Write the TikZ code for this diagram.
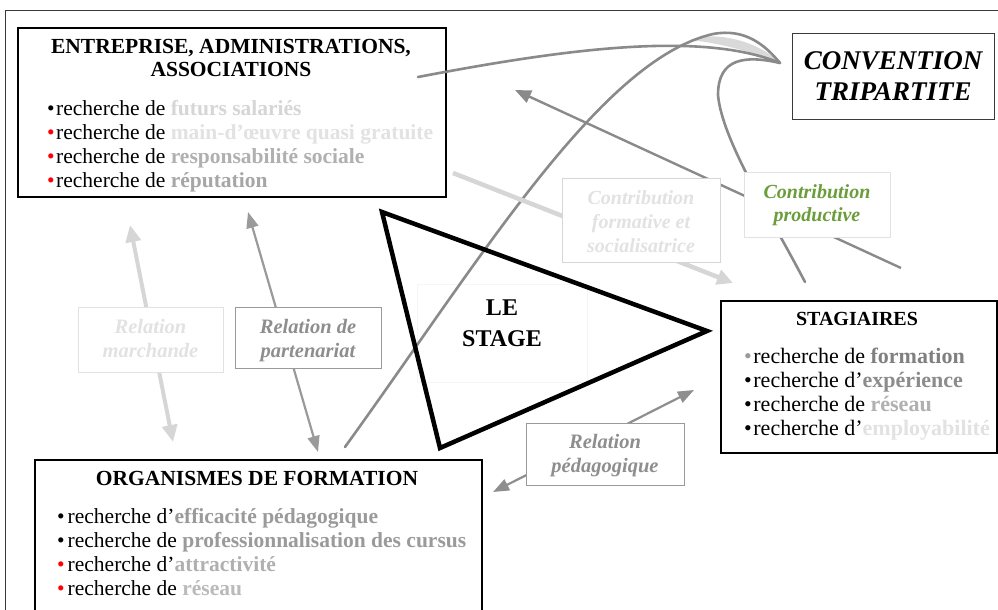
\documentclass[tikz,border=0pt]{standalone}
\usepackage{fontspec}
\setmainfont{Liberation Serif}
\usetikzlibrary{arrows.meta}
\definecolor{frameC}{HTML}{3A3A3A}
\definecolor{curveC}{HTML}{8A8A8A}
\definecolor{pale}{HTML}{D6D6D6}
\definecolor{paler}{HTML}{E2E2E2}
\definecolor{midg}{HTML}{9A9A9A}
\definecolor{lightg}{HTML}{B0B0B0}
\definecolor{greenC}{HTML}{6B9D3B}
\definecolor{relG}{HTML}{8E8E8E}
\newcommand{\bul}[1][black]{{\color{#1}•}\hspace{1.5pt}}
\begin{document}
\begin{tikzpicture}[x=1pt,y=-1pt]
\tikzset{
  bigbox/.style={draw=black, line width=1.6pt, fill=white, anchor=north west, inner sep=0pt},
  lblbox/.style={draw=#1, line width=1pt, fill=white, anchor=north west, inner sep=0pt},
  txt/.style={inner sep=0pt, anchor=base},
  itm/.style={inner sep=0pt, anchor=base west, font=\fontsize{21.5}{24}\selectfont},
  itmS/.style={inner sep=0pt, anchor=base west, font=\fontsize{22}{24}\selectfont},
  ttl/.style={txt, font=\bfseries\fontsize{21.5}{24}\selectfont},
  lbl/.style={txt, font=\bfseries\itshape\fontsize{20.5}{24}\selectfont},
  curve/.style={draw=curveC, line width=2.6pt, line cap=round},
  arrA/.style={draw=pale, line width=4pt, {Triangle[length=17pt,width=15pt]}-{Triangle[length=17pt,width=15pt]}},
  arrB/.style={draw=#1, line width=2.2pt, {Triangle[length=16pt,width=12pt]}-{Triangle[length=16pt,width=12pt]}},
  arrE/.style={draw=curveC, line width=2.4pt, {Triangle[length=16pt,width=13pt]}-},
  arrD/.style={draw=pale, line width=4.5pt, -{Triangle[length=16pt,width=15pt]}},
}
\useasboundingbox (0,0) rectangle (998,610);
\clip (0,0) rectangle (998,610);

% outer frame (only top and left visible)
\draw[frameC, line width=1.3pt] (5.5,640) -- (5.5,10.5) -- (1020,10.5);

% main boxes
\node[bigbox, minimum width=428pt, minimum height=169pt] (ent) at (17,27) {};
\node[bigbox, line width=1.3pt, draw=frameC, minimum width=202pt, minimum height=86pt] (conv) at (792,33) {};
\node[bigbox, minimum width=276pt, minimum height=152pt] (stag) at (720,300) {};
\node[bigbox, minimum width=447pt, minimum height=200pt] (org) at (34,459) {};

% faint box of "LE STAGE"
\node[draw=black!4, line width=0.8pt, anchor=north west, inner sep=0pt, minimum width=170pt, minimum height=98pt] (stagebox) at (417,284) {};

% free ends of the connectors
\coordinate (aTop) at (130,225);
\coordinate (aBot) at (173,442);
\coordinate (bTop) at (248,212);
\coordinate (bBot) at (318,452);
\coordinate (cL) at (493,492);
\coordinate (cR) at (694,390);
\coordinate (dS) at (453,173);
\coordinate (dE) at (733,283);
\coordinate (eS) at (901,268);
\coordinate (eE) at (515,90);
\coordinate (tip) at (780,63);
\coordinate (f1S) at (418,77);
\coordinate (f2S) at (345,447);
\coordinate (f3E) at (805,282);

% beak fill
\fill[black!15] (690,40) .. controls (716,30) and (760,42) .. (tip) .. controls (752,52) and (720,43) .. (690,40) -- cycle;

% curves of the convention
\draw[curve] (f1S) .. controls (560,50) and (700,30) .. (tip);
\draw[curve] (f2S) .. controls (480,260) and (600,60) .. (713,34) .. controls (745,28) and (765,45) .. (tip);
\draw[curve] (tip) .. controls (745,55) and (718,58) .. (718,95) .. controls (722,140) and (770,215) .. (f3E);

% arrows
\draw[arrA] (aTop) -- (aBot);
\draw[arrB=midg] (bTop) -- (bBot);
\draw[arrB=relG] (cL) -- (cR);
\draw[arrD] (dS) -- (dE);
\draw[arrE] (eE) -- (eS);

% label boxes
\node[lblbox=paler, minimum width=145pt, minimum height=65pt] (relM) at (78,307) {};
\node[lblbox=midg, minimum width=146pt, minimum height=61pt] (relP) at (235,307) {};
\node[lblbox=midg, minimum width=158pt, minimum height=62pt] (relPed) at (526,423) {};
\node[lblbox=pale, minimum width=158pt, minimum height=84pt] (contF) at (562,178) {};
\node[lblbox=paler, minimum width=146pt, minimum height=65pt] (contP) at (744,172) {};

% triangle
\coordinate (t1) at (382,212);
\coordinate (t2) at (707,331);
\coordinate (t3) at (440,448);
\draw[black, line width=4.5pt, line join=miter] (t1) -- (t2) -- (t3) -- cycle;

% texts: entreprise
\node[ttl] (entT1) at (231,54) {ENTREPRISE, ADMINISTRATIONS,};
\node[ttl] (entT2) at (231,77) {ASSOCIATIONS};
\node[itm] (ent1) at (47,115) {\bul recherche de {\bfseries\color{pale}futurs salariés}};
\node[itm] (ent2) at (47,139) {\bul[red]recherche de {\bfseries\color{paler}main-d’œuvre quasi gratuite}};
\node[itm] (ent3) at (47,163) {\bul[red]recherche de {\bfseries\color{lightg}responsabilité sociale}};
\node[itm] (ent4) at (47,187) {\bul[red]recherche de {\bfseries\color{black!35}réputation}};

% convention
\node[txt, font=\bfseries\itshape\fontsize{27}{30}\selectfont] (convT1) at (893,70) {CONVENTION};
\node[txt, font=\bfseries\itshape\fontsize{27}{30}\selectfont] (convT2) at (893,100) {TRIPARTITE};

% contributions
\node[lbl, text=paler, font=\bfseries\itshape\fontsize{20}{24}\selectfont] (contF1) at (641,204) {Contribution};
\node[lbl, text=paler, font=\bfseries\itshape\fontsize{20}{24}\selectfont] (contF2) at (641,228) {formative et};
\node[lbl, text=paler, font=\bfseries\itshape\fontsize{20}{24}\selectfont] (contF3) at (641,252) {socialisatrice};
\node[lbl, text=greenC, font=\bfseries\itshape\fontsize{20}{24}\selectfont] (contP1) at (817,198) {Contribution};
\node[lbl, text=greenC, font=\bfseries\itshape\fontsize{20}{24}\selectfont] (contP2) at (817,221) {productive};

% relations
\node[lbl, text=paler] (relM1) at (150.5,333) {Relation};
\node[lbl, text=paler] (relM2) at (150.5,357) {marchande};
\node[lbl, text=relG] (relP1) at (308,333) {Relation de};
\node[lbl, text=relG] (relP2) at (308,357) {partenariat};
\node[lbl, text=relG] (relPed1) at (605,448) {Relation};
\node[lbl, text=relG] (relPed2) at (605,472) {pédagogique};

% le stage
\node[txt, font=\bfseries\fontsize{24}{28}\selectfont] (st1) at (502,315) {LE};
\node[txt, font=\bfseries\fontsize{24}{28}\selectfont] (st2) at (502,346) {STAGE};

% stagiaires
\node[txt, font=\bfseries\fontsize{20}{24}\selectfont] (stagT) at (857,325) {STAGIAIRES};
\node[itmS] (stag1) at (744,363) {\bul[midg]recherche de {\bfseries\color{black!50}formation}};
\node[itmS] (stag2) at (744,387) {\bul recherche d’{\bfseries\color{black!45}expérience}};
\node[itmS] (stag3) at (744,411) {\bul recherche de {\bfseries\color{lightg}réseau}};
\node[itmS] (stag4) at (744,435) {\bul recherche d’{\bfseries\color{paler}employabilité}};

% organismes
\node[ttl] (orgT) at (257,485) {ORGANISMES DE FORMATION};
\node[itm] (org1) at (57,523) {\bul\hspace{1.5pt}recherche d’{\bfseries\color{midg}efficacité pédagogique}};
\node[itm] (org2) at (57,547) {\bul\hspace{1.5pt}recherche de {\bfseries\color{midg}professionnalisation des cursus}};
\node[itm] (org3) at (57,571) {\bul[red]\hspace{1.5pt}recherche d’{\bfseries\color{lightg}attractivité}};
\node[itm] (org4) at (57,595) {\bul[red]\hspace{1.5pt}recherche de {\bfseries\color{black!27}réseau}};
\end{tikzpicture}
\end{document}
